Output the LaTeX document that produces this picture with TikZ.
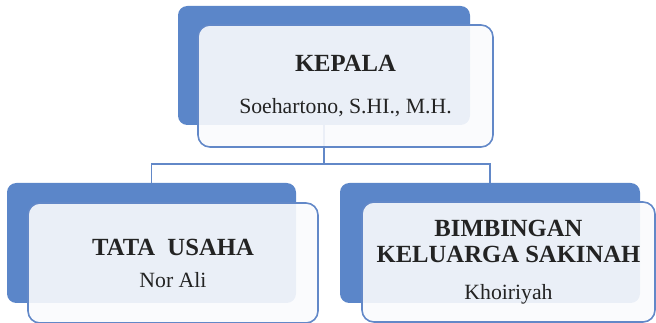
\documentclass[tikz,border=0pt]{standalone}
\usepackage{fontspec}
\setmainfont{Liberation Serif}
\usepackage{tikz}
\usetikzlibrary{positioning}
\definecolor{boxblue}{RGB}{91, 134, 201}
\definecolor{lineblue}{RGB}{98, 136, 200}
\definecolor{paper}{RGB}{250, 251, 253}
\definecolor{ink}{RGB}{35, 35, 35}
\newcommand{\headfont}{\fontsize{18.5}{24}\selectfont\bfseries}
\newcommand{\namefont}{\fontsize{16.3}{24}\selectfont\mdseries}

\begin{document}
\begin{tikzpicture}[
    x=0.75pt, y=-0.75pt,
    back/.style={rectangle, fill=boxblue, rounded corners=7pt, inner sep=0pt},
    front/.style={rectangle, draw=lineblue, line width=1.2pt, fill=paper, fill opacity=0.9, text opacity=1, rounded corners=9pt, inner sep=0pt, align=center, text=ink, font=\fontsize{16.3}{24}\selectfont},
    conn/.style={draw=lineblue, line width=1.3pt}
]
\useasboundingbox (0,0) rectangle (656,323);

% kotak belakang
\node[back, minimum width=219pt, minimum height=89.25pt] (kepalaBack) at (324,65.5) {};
\node[back, minimum width=216.75pt, minimum height=90pt] (tataBack) at (151.5,243) {};
\node[back, minimum width=225pt, minimum height=90pt] (bimbinganBack) at (490,243) {};

% garis penghubung
\coordinate (bus) at (0,164);
\draw[conn] (kepalaBack.south) -- (kepalaBack.south |- bus) -| (tataBack.north);
\draw[conn] (kepalaBack.south |- bus) -| (bimbinganBack.north);

% kotak depan
\node[front, minimum width=221.25pt, minimum height=91.5pt] (kepala) at (345.5,86)
    {\headfont KEPALA\\[8pt] \namefont Soehartono, S.HI., M.H.};
\node[front, minimum width=217.5pt, minimum height=90pt] (tata) at (173,263)
    {\headfont TATA~~USAHA\\ \namefont Nor Ali};
\node[front, minimum width=219.75pt, minimum height=90pt] (bimbingan) at (508.5,262)
    {\headfont BIMBINGAN\\[-4.5pt] \headfont KELUARGA SAKINAH\\[4pt] \namefont Khoiriyah};

\end{tikzpicture}
\end{document}
